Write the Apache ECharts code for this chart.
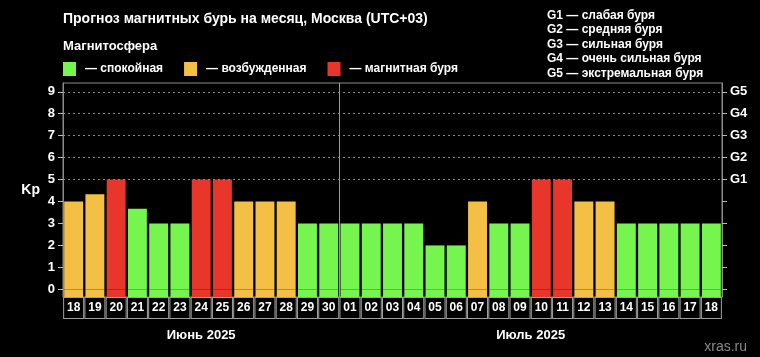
<!DOCTYPE html>
<html><head><meta charset="utf-8">
<script src="https://cdn.jsdelivr.net/npm/echarts@6/dist/echarts.min.js"></script>
<style>html,body{margin:0;padding:0;background:#000}#c{width:760px;height:357px}</style>
</head><body><div id="c"></div>
<script>
const days = ['18','19','20','21','22','23','24','25','26','27','28','29','30',
  '01','02','03','04','05','06','07','08','09','10','11','12','13','14','15','16','17','18'];
const kp = [4,4.33,5,3.67,3,3,5,5,4,4,4,3,3,
  3,3,3,3,2,2,4,3,3,5,5,4,4,3,3,3,3,3];
const months = ['Июнь 2025','Июль 2025'];
const monthDays = [13,18];
const kpTicks = [0,1,2,3,4,5,6,7,8,9];
const gTicks = ['','','','','','G1','G2','G3','G4','G5'];
const gLevels = [5,6,7,8,9];
const stormText = ['G1 — слабая буря','G2 — средняя буря','G3 — сильная буря','G4 — очень сильная буря','G5 — экстремальная буря'];
const statusNames = ['— спокойная','— возбужденная','— магнитная буря'];
const statusColors = ['#77f54f','#f4bf45','#e8372a'];

const Y_MIN = -0.35, Y_MAX = 9.4;
function colorOf(v){ return v >= 5 ? statusColors[2] : (v >= 4 ? statusColors[1] : statusColors[0]); }
const monthCenters = [];
let acc = 0;
monthDays.forEach(n => { monthCenters.push(acc + n/2); acc += n; });
const splitIndex = monthDays[0];
const FONT = 'Liberation Sans, Arial, sans-serif';

const chart = echarts.init(document.getElementById('c'));
chart.setOption({
  backgroundColor: '#000',
  animation: false,
  textStyle: {fontFamily: FONT},
  title: [
    {text: 'Прогноз магнитных бурь на месяц, Москва (UTC+03)', left: 58, top: 7,
     textStyle: {color: '#fff', fontSize: 14, fontWeight: 'bold', fontFamily: FONT}},
    {text: 'Магнитосфера', left: 58, top: 35,
     textStyle: {color: '#fff', fontSize: 13, fontWeight: 'bold', fontFamily: FONT}},
    {text: stormText.join('\n'), left: 542, top: 3,
     textStyle: {color: '#fff', fontSize: 12, fontWeight: 'bold', lineHeight: 14.6, fontFamily: FONT}},
    {text: 'xras.ru', right: 8, top: 335,
     textStyle: {color: '#8a8a8a', fontSize: 14, fontWeight: 'normal', fontFamily: FONT}}
  ],
  legend: {
    data: statusNames, left: 58, top: 57, icon: 'rect', itemWidth: 13, itemHeight: 14,
    itemGap: 21, selectedMode: false,
    textStyle: {color: '#fff', fontSize: 12, fontWeight: 'bold', padding: [0,0,0,4], fontFamily: FONT}
  },
  grid: {left: 63, right: 38, top: 83, bottom: 60, show: true, borderColor: '#8c8c8c', borderWidth: 1, backgroundColor: 'transparent'},
  xAxis: [
    {type: 'category', data: days, boundaryGap: true,
     axisLine: {show: false}, axisTick: {show: false}, splitLine: {show: false},
     axisLabel: {color: '#fff', fontSize: 12, fontWeight: 'bold', interval: 0, margin: 1,
       width: 19, height: 20, lineHeight: 20, align: 'center', verticalAlign: 'top',
       borderColor: '#a0a0a0', borderWidth: 1, backgroundColor: '#000', fontFamily: FONT}},
    {type: 'value', min: 0, max: days.length, position: 'bottom', show: true,
     axisLine: {show: false}, axisTick: {show: false}, splitLine: {show: false},
     axisLabel: {customValues: monthCenters, color: '#fff', fontSize: 13, fontWeight: 'bold', margin: 32,
       formatter: (v) => months[monthCenters.indexOf(v)], fontFamily: FONT}}
  ],
  yAxis: [
    {type: 'value', min: Y_MIN, max: Y_MAX, position: 'left',
     name: 'Kp', nameLocation: 'middle', nameRotate: 0, nameGap: 23,
     nameTextStyle: {color: '#fff', fontSize: 14, fontWeight: 'bold', fontFamily: FONT, padding: [6,0,0,0]},
     axisLine: {show: true, lineStyle: {color: '#8c8c8c'}},
     axisTick: {show: true, customValues: kpTicks, length: 5, lineStyle: {color: '#bbb'}},
     axisLabel: {customValues: kpTicks, color: '#fff', fontSize: 13, fontWeight: 'bold', margin: 8, fontFamily: FONT},
     splitLine: {show: false}},
    {type: 'value', min: Y_MIN, max: Y_MAX, position: 'right',
     axisLine: {show: true, lineStyle: {color: '#8c8c8c'}},
     axisTick: {show: true, customValues: kpTicks, length: 5, lineStyle: {color: '#bbb'}},
     axisLabel: {customValues: kpTicks, color: '#fff', fontSize: 13, fontWeight: 'bold', margin: 8,
       formatter: (v) => gTicks[v], fontFamily: FONT},
     splitLine: {show: false}}
  ],
  series: [
    {type: 'bar', name: 'kp', stack: 'a', data: kp, barCategoryGap: '11%', z: 3,
     itemStyle: {color: (p) => colorOf(kp[p.dataIndex])},
     markLine: {silent: true, symbol: 'none', label: {show: false},
       lineStyle: {color: '#8a8a8a', type: [2,3], width: 1},
       data: gLevels.map(v => ({yAxis: v}))}},
    {type: 'bar', name: 'floor', stack: 'a', data: kp.map(() => Y_MIN), z: 3,
     itemStyle: {color: (p) => colorOf(kp[p.dataIndex])}},
    {type: 'line', name: 'sep', xAxisIndex: 1, yAxisIndex: 0, data: [], z: 5,
     markLine: {silent: true, symbol: 'none', label: {show: false},
       lineStyle: {color: '#9a9a9a', type: 'solid', width: 1},
       data: [{xAxis: splitIndex}]}},
    ...statusNames.map((n, i) => ({type: 'bar', name: n, stack: 'a', data: [], itemStyle: {color: statusColors[i]}}))
  ]
});
</script></body></html>
